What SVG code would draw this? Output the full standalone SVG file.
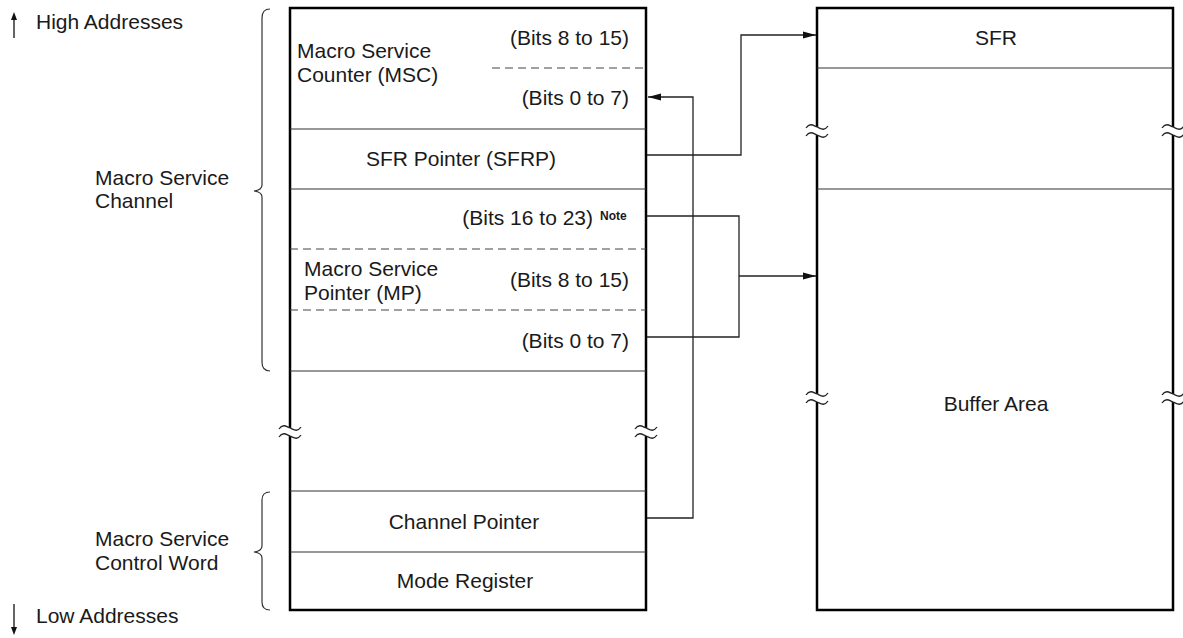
<svg xmlns="http://www.w3.org/2000/svg" xmlns:xlink="http://www.w3.org/1999/xlink" width="1183" height="638" viewBox="0 0 1183 638">
<style>
text{font-family:"Liberation Sans",Arial,Helvetica,sans-serif;font-size:21px;fill:#1a1a1a}
.r{text-anchor:end}
.m{text-anchor:middle}
.note{font-size:12px;font-weight:bold}
.box{fill:#fff;stroke:#000;stroke-width:2.5}
.sep{stroke:#333;stroke-width:1.2;fill:none}
.dash{stroke:#444;stroke-width:1.2;stroke-dasharray:8 5;fill:none}
.con{stroke:#222;stroke-width:1.3;fill:none}
.brace{stroke:#333;stroke-width:1.2;fill:none}
.wave{stroke:#222;stroke-width:1.3;fill:none}
</style>
<defs>
<marker id="ah" markerWidth="14" markerHeight="8" refX="13" refY="4" orient="auto" markerUnits="userSpaceOnUse">
<path d="M0,0.5 L13,4 L0,7.5 Z" fill="#111"/>
</marker>
<g id="brk">
<rect x="-4" y="-4" width="8" height="8" fill="#fff"/>
<path class="wave" d="M-11,-3 C-7,-9 -3,-5 0,-4 S7,1 11,-5"/>
<path class="wave" d="M-11,5 C-7,-1 -3,3 0,4 S7,9 11,3"/>
</g>
</defs>

<g id="address-direction">
<path d="M14,38 V15" stroke="#111" stroke-width="1.3"/>
<path d="M11,20 L14,12 L17,20 Z" fill="#111"/>
<text x="36" y="29">High Addresses</text>
<path d="M14,604 V630" stroke="#111" stroke-width="1.3"/>
<path d="M11,627 L14,635 L17,627 Z" fill="#111"/>
<text x="36" y="623">Low Addresses</text>
</g>

<g id="brace-channel">
<path class="brace" d="M270,9 Q262,9 262,18 V185 Q262,190 254,191 Q262,192 262,197 V362 Q262,371 270,371"/>
<text x="95" y="185">Macro Service</text>
<text x="95" y="208">Channel</text>
</g>

<g id="brace-control-word">
<path class="brace" d="M270,492 Q262,492 262,500 V546 Q262,551 254,552 Q262,553 262,558 V602 Q262,610 270,610"/>
<text x="95" y="546">Macro Service</text>
<text x="95" y="570">Control Word</text>
</g>

<g id="memory-block">
<rect class="box" x="290" y="8" width="356" height="602"/>
<line class="sep" x1="290" y1="129" x2="646" y2="129"/>
<line class="sep" x1="290" y1="189" x2="646" y2="189"/>
<line class="sep" x1="290" y1="371" x2="646" y2="371"/>
<line class="sep" x1="290" y1="491" x2="646" y2="491"/>
<line class="sep" x1="290" y1="552" x2="646" y2="552"/>
<line class="dash" x1="492" y1="68" x2="646" y2="68"/>
<line class="dash" x1="290" y1="249" x2="646" y2="249"/>
<line class="dash" x1="290" y1="310" x2="646" y2="310"/>
<use xlink:href="#brk" x="290" y="432"/>
<use xlink:href="#brk" x="646" y="432"/>
</g>

<g id="node-msc">
<text x="297" y="58">Macro Service</text>
<text x="297" y="82">Counter (MSC)</text>
<text class="r" x="629" y="45">(Bits 8 to 15)</text>
<text class="r" x="629" y="105">(Bits 0 to 7)</text>
</g>

<g id="node-sfrp">
<text class="m" x="461" y="166">SFR Pointer (SFRP)</text>
</g>

<g id="node-mp">
<text class="r" x="593" y="225">(Bits 16 to 23)</text>
<text class="note" x="600" y="220">Note</text>
<text x="304" y="276">Macro Service</text>
<text x="304" y="300">Pointer (MP)</text>
<text class="r" x="629" y="287">(Bits 8 to 15)</text>
<text class="r" x="629" y="348">(Bits 0 to 7)</text>
</g>

<g id="node-channel-pointer">
<text class="m" x="464" y="529">Channel Pointer</text>
</g>

<g id="node-mode-register">
<text class="m" x="465" y="588">Mode Register</text>
</g>

<g id="target-block">
<rect class="box" x="817" y="8" width="356" height="602"/>
<line class="sep" x1="817" y1="68" x2="1173" y2="68"/>
<line class="sep" x1="817" y1="189" x2="1173" y2="189"/>
<use xlink:href="#brk" x="817" y="131"/>
<use xlink:href="#brk" x="1173" y="131"/>
<use xlink:href="#brk" x="817" y="398"/>
<use xlink:href="#brk" x="1173" y="398"/>
</g>

<g id="node-sfr">
<text class="m" x="996" y="45">SFR</text>
</g>

<g id="node-buffer-area">
<text class="m" x="996" y="411">Buffer Area</text>
</g>

<g id="connectors">
<path class="con" d="M647,155 H741 V35 H816" marker-end="url(#ah)"/>
<path class="con" d="M647,518 H693 V97 H648" marker-end="url(#ah)"/>
<path class="con" d="M647,216 H739 V337 H647"/>
<path class="con" d="M739,276 H816" marker-end="url(#ah)"/>
</g>
</svg>
